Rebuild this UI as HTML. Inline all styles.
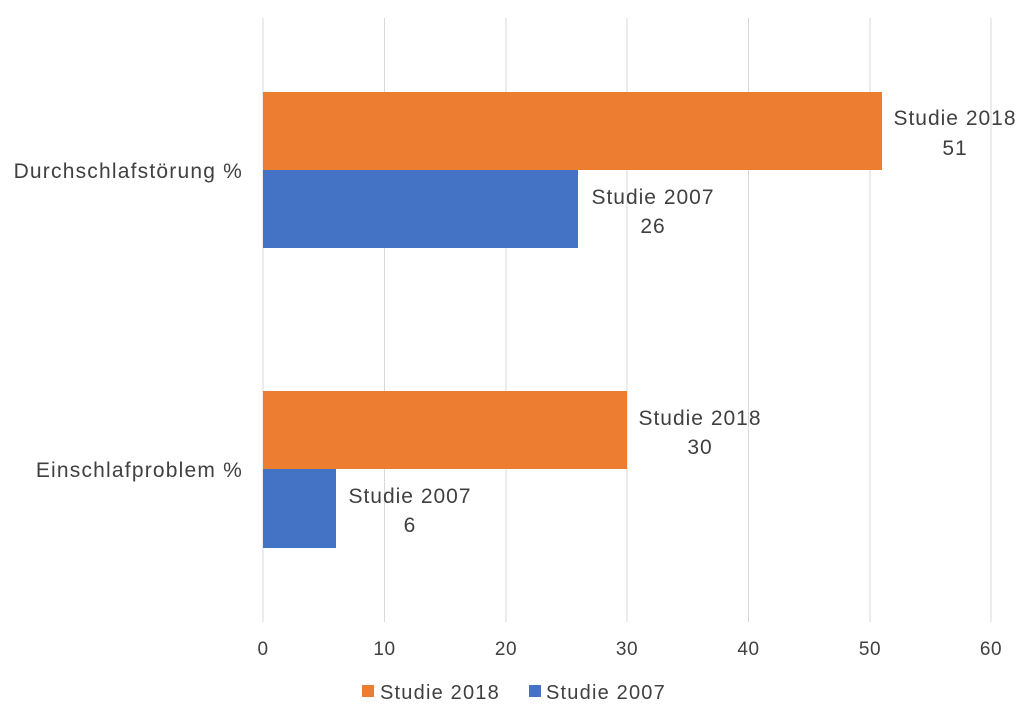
<!DOCTYPE html>
<html><head><style>
body{margin:0;background:#fff;}
svg text{font-family:"Liberation Sans",sans-serif;fill:#404040;}
</style></head><body>
<svg width="1024" height="723" xmlns="http://www.w3.org/2000/svg">
<rect width="1024" height="723" fill="#fff"/>
<g stroke="#d9d9d9" stroke-width="1">
<line x1="263" y1="18" x2="263" y2="622"/>
<line x1="384.5" y1="18" x2="384.5" y2="622"/>
<line x1="506" y1="18" x2="506" y2="622"/>
<line x1="627" y1="18" x2="627" y2="622"/>
<line x1="748.5" y1="18" x2="748.5" y2="622"/>
<line x1="870" y1="18" x2="870" y2="622"/>
<line x1="991" y1="18" x2="991" y2="622"/>
</g>
<rect x="263" y="92" width="619" height="78" fill="#ED7D31"/>
<rect x="263" y="170" width="315" height="78" fill="#4472C4"/>
<rect x="263" y="391" width="364" height="78" fill="#ED7D31"/>
<rect x="263" y="469" width="73" height="79" fill="#4472C4"/>
<g font-size="21" text-anchor="middle" letter-spacing="1">
<text x="955" y="125">Studie 2018</text><text x="955" y="155">51</text>
<text x="653" y="204">Studie 2007</text><text x="653" y="233">26</text>
<text x="700" y="425">Studie 2018</text><text x="700" y="454">30</text>
<text x="410" y="503">Studie 2007</text><text x="410" y="532">6</text>
</g>
<g font-size="21" text-anchor="end" letter-spacing="1.2">
<text x="243" y="178">Durchschlafstörung %</text>
<text x="243" y="477">Einschlafproblem %</text>
</g>
<g font-size="19" text-anchor="middle" letter-spacing="0.5">
<text x="263" y="655">0</text><text x="384.5" y="655">10</text><text x="506" y="655">20</text>
<text x="627" y="655">30</text><text x="748.5" y="655">40</text><text x="870" y="655">50</text>
<text x="991" y="655">60</text>
</g>
<rect x="362" y="685" width="12" height="12" fill="#ED7D31"/>
<text x="380" y="699" font-size="20" letter-spacing="1.2">Studie 2018</text>
<rect x="529" y="685" width="12" height="12" fill="#4472C4"/>
<text x="546" y="699" font-size="20" letter-spacing="1.2">Studie 2007</text>
</svg>
</body></html>
